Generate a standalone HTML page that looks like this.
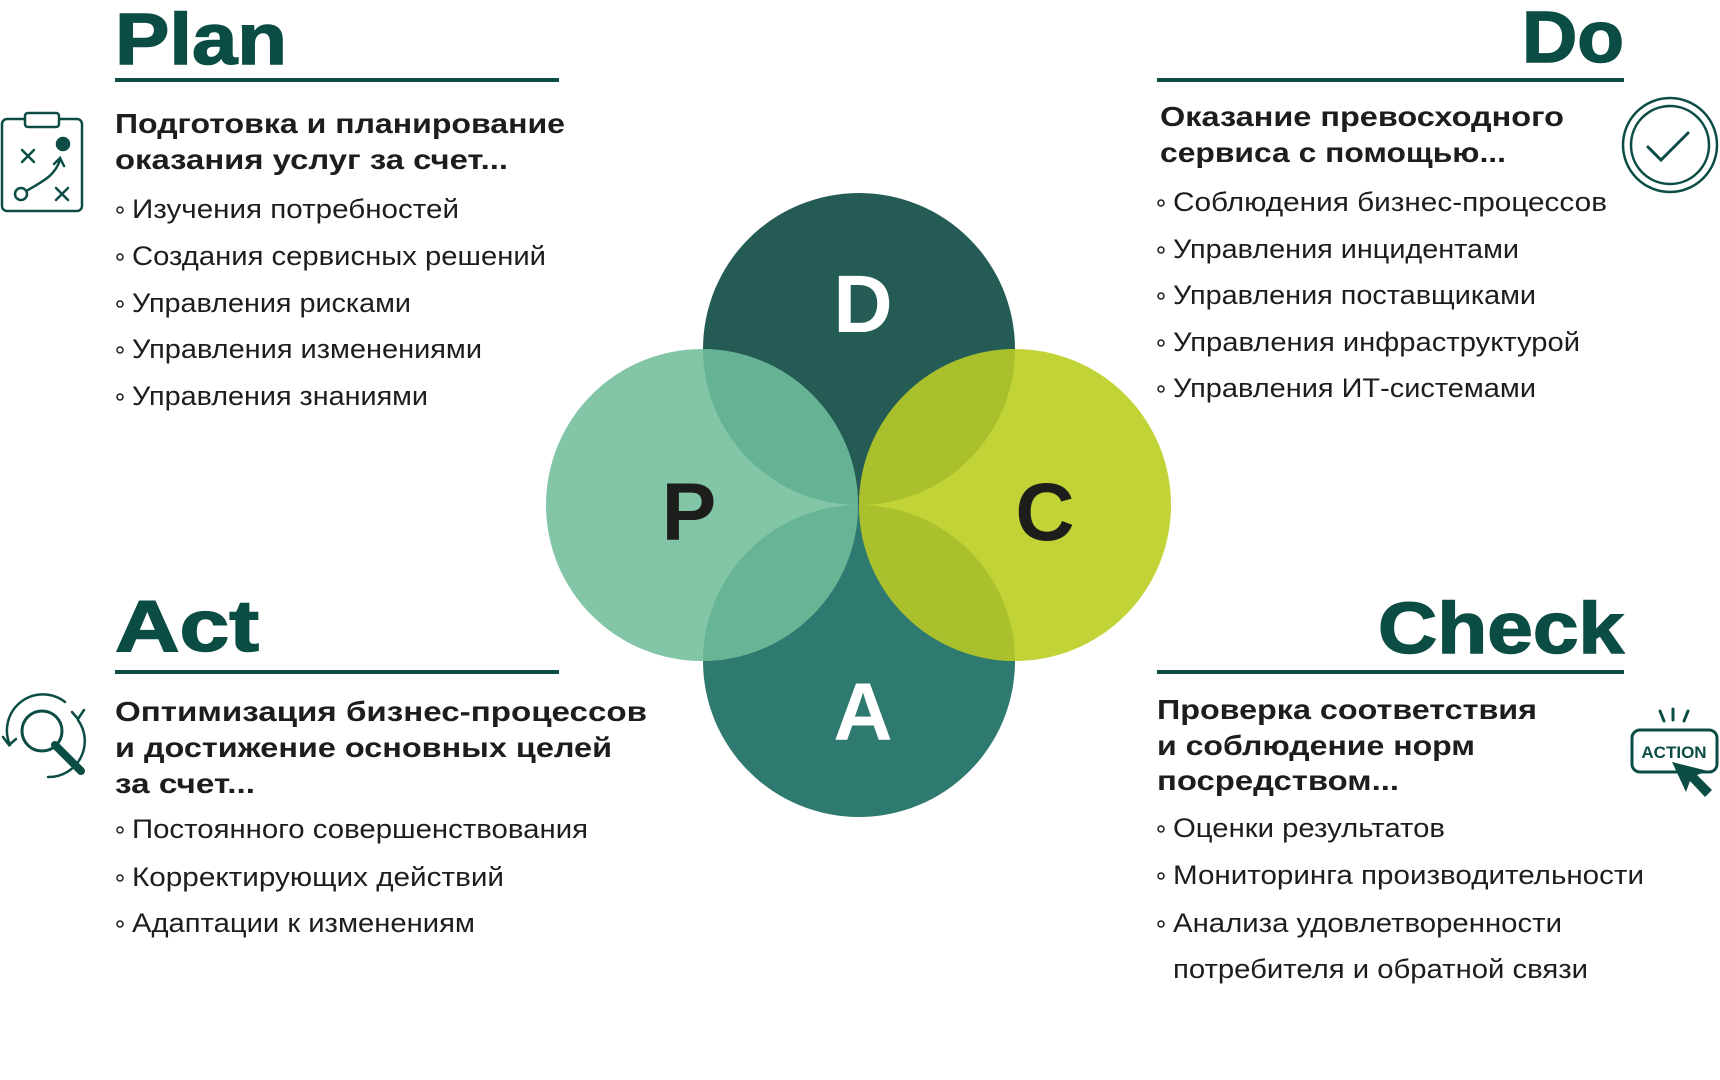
<!DOCTYPE html>
<html><head><meta charset="utf-8"><style>html,body{margin:0;padding:0;background:#fff}svg{display:block}</style></head>
<body>
<svg width="1720" height="1080" viewBox="0 0 1720 1080" xmlns="http://www.w3.org/2000/svg" font-family="'Liberation Sans', sans-serif">
<defs>
<clipPath id="cp"><circle cx="702" cy="505" r="156"/></clipPath>
<clipPath id="cc"><circle cx="1015" cy="505" r="156"/></clipPath>
</defs>
<circle cx="859" cy="349" r="156" fill="#245b55"/>
<circle cx="859" cy="661" r="156" fill="#2f7a70"/>
<circle cx="702" cy="505" r="156" fill="#82c5a7"/>
<circle cx="1015" cy="505" r="156" fill="#c1d336"/>
<circle cx="859" cy="349" r="156" fill="#65b394" clip-path="url(#cp)"/>
<circle cx="859" cy="661" r="156" fill="#67b595" clip-path="url(#cp)"/>
<circle cx="859" cy="349" r="156" fill="#a9bf2c" clip-path="url(#cc)"/>
<circle cx="859" cy="661" r="156" fill="#aac12d" clip-path="url(#cc)"/>
<g font-weight="bold" font-size="82" text-anchor="middle">
<text x="863" y="332" fill="#fff">D</text>
<text x="689" y="540" fill="#1d1d1b">P</text>
<text x="1045" y="540" fill="#1d1d1b">C</text>
<text x="863" y="740" fill="#fff">A</text>
</g>
<g font-weight="bold" font-size="72" fill="#0b4d45" stroke="#0b4d45" stroke-width="1.5">
<text x="115" y="64" textLength="172" lengthAdjust="spacingAndGlyphs">Plan</text>
<text x="1522" y="62" textLength="102" lengthAdjust="spacingAndGlyphs">Do</text>
<text x="115" y="651" textLength="144" lengthAdjust="spacingAndGlyphs">Act</text>
<text x="1378" y="653" textLength="246" lengthAdjust="spacingAndGlyphs">Check</text>
</g>
<g fill="#0b4d45">
<rect x="115" y="78" width="444" height="4"/>
<rect x="1157" y="78" width="467" height="4"/>
<rect x="115" y="670" width="444" height="4"/>
<rect x="1157" y="670" width="467" height="4"/>
</g>
<g font-weight="bold" font-size="28" fill="#1d1d1b">
<text x="115" y="133" textLength="450" lengthAdjust="spacingAndGlyphs">Подготовка и планирование</text>
<text x="115" y="169" textLength="393" lengthAdjust="spacingAndGlyphs">оказания услуг за счет...</text>
<text x="1160" y="126" textLength="404" lengthAdjust="spacingAndGlyphs">Оказание превосходного</text>
<text x="1160" y="162" textLength="346" lengthAdjust="spacingAndGlyphs">сервиса с помощью...</text>
<text x="115" y="721" textLength="532" lengthAdjust="spacingAndGlyphs">Оптимизация бизнес-процессов</text>
<text x="115" y="757" textLength="497" lengthAdjust="spacingAndGlyphs">и достижение основных целей</text>
<text x="115" y="793" textLength="140" lengthAdjust="spacingAndGlyphs">за счет...</text>
<text x="1157" y="719" textLength="380" lengthAdjust="spacingAndGlyphs">Проверка соответствия</text>
<text x="1157" y="755" textLength="318" lengthAdjust="spacingAndGlyphs">и соблюдение норм</text>
<text x="1157" y="790" textLength="242" lengthAdjust="spacingAndGlyphs">посредством...</text>
</g>
<g font-size="27" fill="#1d1d1b">
<g fill="none" stroke="#1d1d1b" stroke-width="1.5">
<circle cx="120" cy="210" r="3"/><circle cx="120" cy="257" r="3"/><circle cx="120" cy="304" r="3"/><circle cx="120" cy="350" r="3"/><circle cx="120" cy="397" r="3"/>
<circle cx="1161" cy="203" r="3"/><circle cx="1161" cy="250" r="3"/><circle cx="1161" cy="296" r="3"/><circle cx="1161" cy="343" r="3"/><circle cx="1161" cy="389" r="3"/>
<circle cx="120" cy="830" r="3"/><circle cx="120" cy="878" r="3"/><circle cx="120" cy="924" r="3"/>
<circle cx="1161" cy="829" r="3"/><circle cx="1161" cy="876" r="3"/><circle cx="1161" cy="924" r="3"/>
</g>
<text x="132" y="218" textLength="327" lengthAdjust="spacingAndGlyphs">Изучения потребностей</text>
<text x="132" y="265" textLength="414" lengthAdjust="spacingAndGlyphs">Создания сервисных решений</text>
<text x="132" y="312" textLength="279" lengthAdjust="spacingAndGlyphs">Управления рисками</text>
<text x="132" y="358" textLength="350" lengthAdjust="spacingAndGlyphs">Управления изменениями</text>
<text x="132" y="405" textLength="296" lengthAdjust="spacingAndGlyphs">Управления знаниями</text>
<text x="1173" y="211" textLength="434" lengthAdjust="spacingAndGlyphs">Соблюдения бизнес-процессов</text>
<text x="1173" y="258" textLength="346" lengthAdjust="spacingAndGlyphs">Управления инцидентами</text>
<text x="1173" y="304" textLength="363" lengthAdjust="spacingAndGlyphs">Управления поставщиками</text>
<text x="1173" y="351" textLength="407" lengthAdjust="spacingAndGlyphs">Управления инфраструктурой</text>
<text x="1173" y="397" textLength="363" lengthAdjust="spacingAndGlyphs">Управления ИТ-системами</text>
<text x="132" y="838" textLength="456" lengthAdjust="spacingAndGlyphs">Постоянного совершенствования</text>
<text x="132" y="886" textLength="372" lengthAdjust="spacingAndGlyphs">Корректирующих действий</text>
<text x="132" y="932" textLength="343" lengthAdjust="spacingAndGlyphs">Адаптации к изменениям</text>
<text x="1173" y="837" textLength="272" lengthAdjust="spacingAndGlyphs">Оценки результатов</text>
<text x="1173" y="884" textLength="471" lengthAdjust="spacingAndGlyphs">Мониторинга производительности</text>
<text x="1173" y="932" textLength="389" lengthAdjust="spacingAndGlyphs">Анализа удовлетворенности</text>
<text x="1173" y="978" textLength="415" lengthAdjust="spacingAndGlyphs">потребителя и обратной связи</text>
</g>
<g fill="none" stroke="#0b4d45" stroke-width="2.5" stroke-linecap="round">
<rect x="2" y="119" width="80" height="92" rx="5"/>
<rect x="25" y="113" width="34" height="14" rx="3" fill="#fff"/>
<path d="M22 150l12 12M34 150l-12 12M56 188l12 12M68 188l-12 12"/>
<circle cx="21" cy="194" r="6"/>
<path d="M28 190 C45 180 55 175 60 160"/><path d="M54 164l6-6 4 8"/>
<circle cx="63" cy="144" r="6" fill="#0b4d45"/>
<circle cx="1670" cy="145" r="47"/>
<circle cx="1670" cy="145" r="39"/>
<path d="M1648 147l13 13 27-27" stroke-width="3"/>
<circle cx="42" cy="731" r="20" stroke-width="3"/>
<path d="M55 745l26 26" stroke-width="8"/>
<path d="M10 745a36 36 0 0 1 55-43M78 720a36 36 0 0 1-30 57"/>
<path d="M3 737l6 8 7-6M72 712l6 7 6-9"/>
<rect x="1632" y="730" width="85" height="42" rx="8" stroke-width="3"/>
<path d="M1660 711l4 10M1673 709v11M1688 711l-4 10" stroke-width="3"/>
</g>
<text x="1674" y="758" text-anchor="middle" font-weight="bold" font-size="17" fill="#0b4d45">ACTION</text>
<path d="M1672 762l14 30 4-11 15 16 7-7-15-15 11-4z" fill="#0b4d45"/>
</svg>
</body></html>
